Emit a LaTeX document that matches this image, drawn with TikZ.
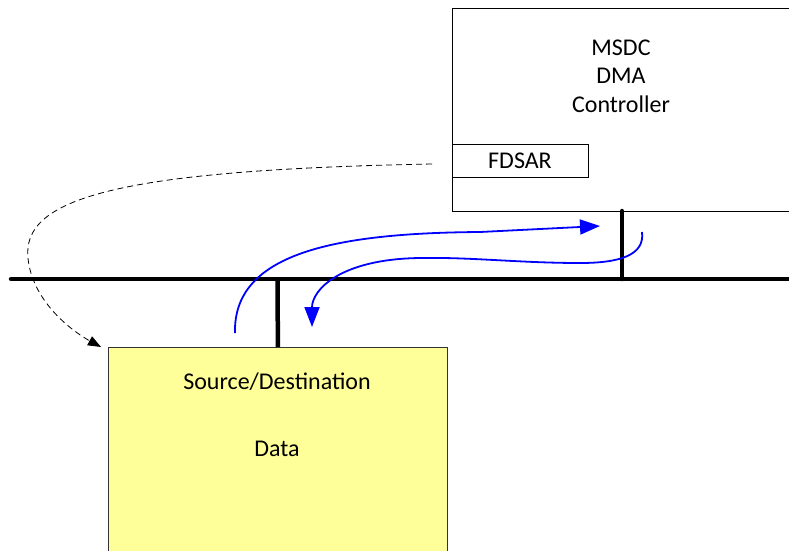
\documentclass[tikz,border=0pt]{standalone}
\usepackage{fontspec}
\setmainfont{Carlito}
\usetikzlibrary{arrows.meta}
\definecolor{srcyellow}{RGB}{255,255,153}
\begin{document}
\begin{tikzpicture}[x=1pt,y=-1pt,
  box/.style={draw=black, line width=0.8pt, inner sep=0pt},
  lbl/.style={font=\fontsize{24}{28.5}\selectfont, align=center, inner sep=0pt},
  busline/.style={line width=4.5pt, black},
  flow/.style={draw=blue, line width=1.8pt, -{Triangle[length=20pt,width=15pt]}},
  ptr/.style={draw=black, line width=0.8pt, dash pattern=on 6pt off 4pt, -{Triangle[length=13pt,width=10pt]}}
]
\clip (0,0) rectangle (789,550);
\fill[white] (0,0) rectangle (789,550);
% boxes
\node[box, minimum width=360pt, minimum height=203pt, anchor=north west] (msdc) at (452,8) {};
\node[lbl] (msdclbl) at (621,76) {MSDC\\DMA\\Controller};
\node[box, fill=white, minimum width=136pt, minimum height=33pt, anchor=north west] (fdsar) at (452,144) {};
\node[lbl] (fdsarlbl) at (520,161) {FDSAR};
\node[box, fill=srcyellow, draw=black!80, minimum width=339pt, minimum height=230pt, anchor=north west] (src) at (108,347) {};
\node[lbl] (srclbl) at (277,382) {Source/Destination};
\node[lbl] (datalbl) at (277,449) {Data};
% bus
\coordinate (busL) at (11,279);
\coordinate (busR) at (800,279);
\draw[busline, line cap=round] (busL) -- (busR);
\coordinate (stubtop) at (622,211);
\coordinate (stubbot) at (622,279);
\draw[busline, line cap=round] (stubtop) -- (stubbot);
\coordinate (srcbus) at (277.5,279);
\draw[busline] (srcbus) -- (src.north);
% dashed pointer
\coordinate (ptrstart) at (432,164);
\coordinate (ptrend) at (101,347);
\draw[ptr] (ptrstart) .. controls (110,170) and (22,200) .. (28,258) .. controls (32,300) and (70,330) .. (ptrend);
% blue flows
\coordinate (f1s) at (235,333);
\coordinate (f1e) at (600,226);
\draw[flow] (f1s) .. controls (233,255) and (330,233) .. (480,232) -- (f1e);
\coordinate (f2s) at (642,232);
\coordinate (f2e) at (312,327);
\draw[flow] (f2s) .. controls (645,255) and (620,263) .. (580,263) .. controls (520,263) and (470,257) .. (420,258) .. controls (340,259) and (312,290) .. (f2e);
\end{tikzpicture}
\end{document}
